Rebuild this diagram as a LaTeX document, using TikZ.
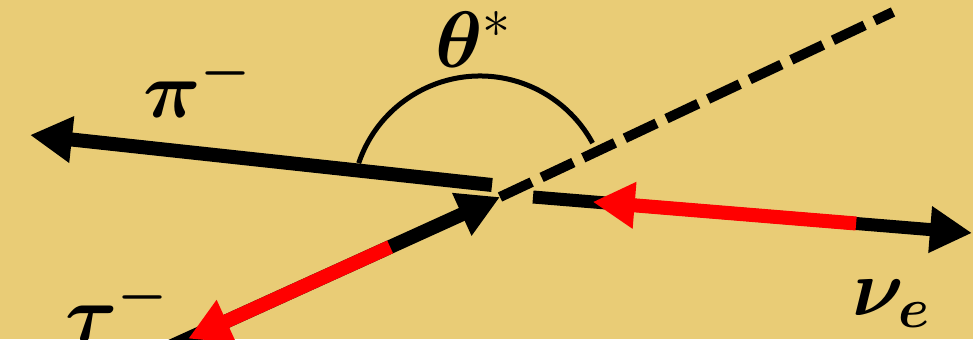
\RequirePackage{fix-cm}
\documentclass[tikz,border=0pt]{standalone}
\usepackage{amsmath,amssymb}
\usepackage{xcolor}
\usepackage{tikz}
\usetikzlibrary{calc,arrows.meta}
\definecolor{sandbg}{HTML}{E9CC76}
\definecolor{spinred}{HTML}{FF0000}

\begin{document}
\begin{tikzpicture}[x=0.5pt, y=0.5pt,
    vec/.style={line width=7pt, -{Triangle[length=21pt,width=22pt]}},
    lbl/.style={inner sep=0pt, anchor=base west, font=\fontsize{40}{44}\selectfont\boldmath}]
  % background, 973 x 339 units
  \fill[sandbg] (0,0) rectangle (973,339);
  \useasboundingbox (0,0) rectangle (973,339);

  % end points of the momenta
  \coordinate (vtx) at (500,142);
  \coordinate (piend) at (492,154);
  \coordinate (pitip) at (30,204);
  \coordinate (taustart) at (150,-17);
  \coordinate (nustart) at (533,142);
  \coordinate (nutip) at (972,106);
  \coordinate (axisend) at (893,327);
  \coordinate (arccen) at (480,135);

  % pi- and nu_e momenta
  \draw[vec] (piend) -- (pitip);
  \draw[vec, line width=6.5pt] (nustart) -- (nutip);

  % tau flight direction (dashed) and tau momentum
  \draw[line width=5pt, dash pattern=on 17.5pt off 5.5pt] (vtx) -- (axisend);
  \draw[vec] (taustart) -- (vtx);

  % spin arrows in red
  \draw[vec, spinred] ($(nustart)!0.736!(nutip)$) -- ($(nustart)!0.136!(nutip)$);
  \draw[vec, spinred] ($(taustart)!0.686!(vtx)$) -- ($(taustart)!0.109!(vtx)$);

  % angle theta*
  \draw[line width=2.5pt] ([shift={(161.4:128)}]arccen) arc[start angle=161.4, end angle=28.4, radius=128];

  % labels
  \node[lbl] (pilbl) at (143,222) {$\pi^-$};
  \node[lbl] (thetalbl) at (435,272) {$\theta^{\mbox{\unboldmath$\scriptstyle *$}}$};
  \node[lbl] (nulbl) at (852,24) {$\nu_e$};
  \node[lbl] (taulbl) at (65,-2) {$\tau^-$};
\end{tikzpicture}
\end{document}
